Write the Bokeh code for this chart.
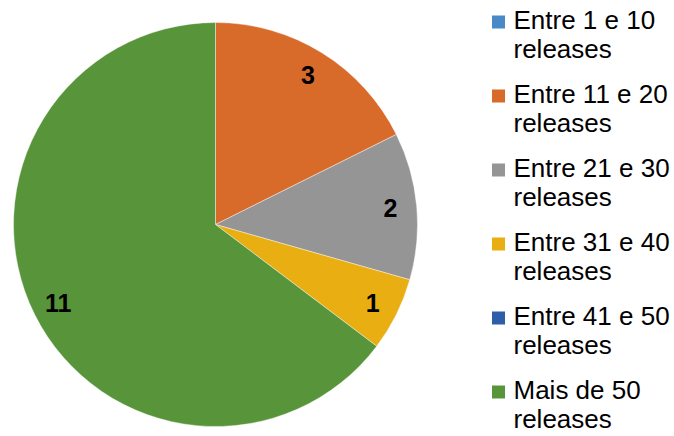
import math
from bokeh.plotting import figure
from bokeh.models import Range1d, ColumnDataSource
from bokeh.core.properties import value
from bokeh.embed import file_html
from bokeh.resources import INLINE

categories = ["Entre 1 e 10", "Entre 11 e 20", "Entre 21 e 30",
              "Entre 31 e 40", "Entre 41 e 50", "Mais de 50"]
counts = [0, 3, 2, 1, 0, 11]
colors = ["#4A89C8", "#D86A2A", "#959595", "#E9AE12", "#2F5DA8", "#58953A"]

W, H = 674, 436
cx, cy, r = 215, H - 224, 202

p = figure(width=W, height=H, output_backend="svg", toolbar_location=None,
           x_range=Range1d(0, W), y_range=Range1d(0, H),
           min_border=0, min_border_left=0, min_border_right=0,
           min_border_top=0, min_border_bottom=0)
p.axis.visible = False
p.grid.visible = False
p.outline_line_color = None
p.background_fill_color = "white"

total = sum(counts)
starts, ends, cols, lx, ly, labs = [], [], [], [], [], []
cum = 0.0
for c, col in zip(counts, colors):
    a0 = cum / total * 2 * math.pi
    cum += c
    a1 = cum / total * 2 * math.pi
    if c > 0:
        starts.append(math.pi / 2 - a1)
        ends.append(math.pi / 2 - a0)
        cols.append(col)
        mid = (a0 + a1) / 2
        lx.append(cx + 0.87 * r * math.sin(mid))
        ly.append(cy + 0.87 * r * math.cos(mid))
        labs.append(str(c))

src = ColumnDataSource(dict(s=starts, e=ends, c=cols))
p.wedge(x=cx, y=cy, radius=r, start_angle="s", end_angle="e", source=src,
        fill_color="c", line_color="white", line_width=0.6, line_alpha=0.7)

p.text(x=lx, y=ly, text=labs, text_font=value("Liberation Sans"),
       text_font_size="25px", text_font_style="bold", text_color="black",
       text_align="center", text_baseline="middle")

# legend
mx, my, tx1, ty1, tx2, ty2, t1, t2 = [], [], [], [], [], [], [], []
for i, name in enumerate(categories):
    base = 28.5 + 74 * i
    mx.append(498)
    my.append(H - (base - 7))
    tx1.append(513)
    ty1.append(H - (base - 9))
    t1.append(name)
    tx2.append(513)
    ty2.append(H - (base + 29 - 9))
    t2.append("releases")

p.scatter(x=mx, y=my, marker="square", size=13, fill_color=colors, line_color=None)
p.text(x=tx1, y=ty1, text=t1, text_font=value("Liberation Sans"),
       text_font_size="26px", text_color="black", text_baseline="middle")
p.text(x=tx2, y=ty2, text=t2, text_font=value("Liberation Sans"),
       text_font_size="26px", text_color="black", text_baseline="middle")

open("out.html", "w").write(file_html(p, INLINE))
